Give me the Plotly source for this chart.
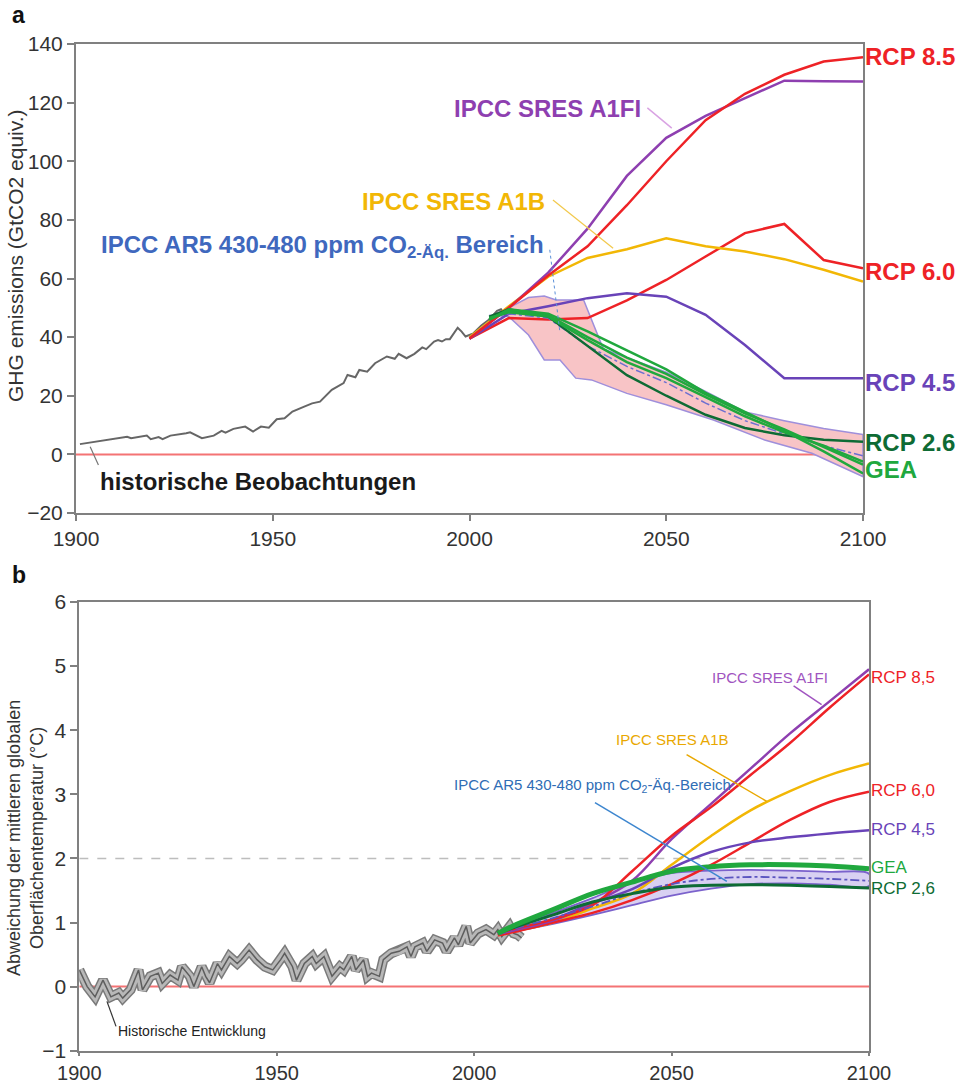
import plotly.graph_objects as go

# ---------------- DATA: panel a (GHG emissions, GtCO2 equiv.) ----------------
hist_ghg_years = [1901, 1905, 1908, 1913, 1914, 1918, 1919, 1921, 1922, 1924, 1928, 1929, 1932, 1935,
                  1937, 1938, 1940, 1943, 1945, 1947, 1949, 1951, 1953, 1955, 1958, 1960, 1962, 1965,
                  1968, 1969, 1971, 1972, 1974, 1976, 1979, 1981, 1982, 1984, 1986, 1988, 1989, 1991,
                  1992, 1993, 1994, 1995, 1997, 1998, 1999, 2001, 2003, 2005, 2007, 2008, 2009, 2010]
hist_ghg = [3.5, 4.3, 4.9, 6.0, 5.5, 6.4, 5.2, 5.9, 5.2, 6.4, 7.2, 7.5, 5.5, 6.4,
            8.0, 7.4, 8.7, 9.5, 7.8, 9.5, 9.1, 12.0, 12.3, 14.6, 16.3, 17.4, 18.0, 22.0,
            24.3, 27.1, 26.3, 28.8, 28.2, 31.1, 33.4, 32.6, 34.3, 32.8, 34.3, 36.5, 35.9, 38.5,
            39.0, 38.5, 39.3, 39.3, 43.2, 41.9, 40.2, 41.3, 44.0, 46.0, 49.0, 49.5, 47.5, 48.5]

proj_years = [2000, 2010, 2020, 2030, 2040, 2050, 2060, 2070, 2080, 2090, 2100]
a_rcp85 = [39.5, 50.0, 61.0, 71.0, 85.0, 100.0, 114.0, 123.0, 129.5, 134.0, 135.5]
a_a1fi = [39.5, 50.0, 62.0, 77.0, 95.0, 108.0, 115.5, 121.5, 127.5, 127.3, 127.2]
a_a1b = [40.0, 50.5, 60.6, 67.0, 70.0, 73.7, 71.0, 69.2, 66.6, 63.0, 59.0]
a_rcp60 = [39.5, 46.5, 46.0, 46.5, 52.5, 59.5, 67.5, 75.5, 78.6, 66.3, 63.5]
a_rcp45 = [39.5, 48.0, 50.5, 53.3, 55.0, 53.8, 47.6, 37.3, 26.0, 26.0, 26.0]

low_years = [2005, 2010, 2020, 2030, 2040, 2050, 2060, 2070, 2080, 2090, 2100]
a_rcp26 = [47.0, 49.5, 47.0, 37.0, 27.0, 20.0, 13.5, 9.0, 6.5, 5.0, 4.3]
a_gea1 = [46.0, 49.5, 48.0, 42.0, 35.5, 29.0, 21.0, 14.5, 8.0, 1.0, -6.5]
a_gea2 = [46.0, 49.0, 47.5, 40.0, 33.0, 27.5, 20.5, 14.0, 8.5, 2.5, -3.5]
a_gea3 = [46.5, 48.5, 47.0, 39.0, 31.5, 26.0, 19.5, 13.0, 7.5, 3.0, -2.5]
a_ar5_mid = [47.0, 48.0, 46.5, 37.0, 30.0, 24.5, 17.5, 11.5, 7.0, 3.0, -0.5]

band_up_years = [2005, 2010, 2015, 2019, 2022, 2029, 2034, 2040, 2050, 2060, 2070, 2080, 2090, 2100]
band_up = [47.0, 50.0, 53.5, 54.0, 52.7, 52.7, 36.0, 33.0, 28.0, 21.5, 14.5, 11.5, 8.8, 6.8]
band_lo_years = [2005, 2010, 2015, 2019, 2023, 2027, 2031, 2040, 2050, 2062, 2075, 2087, 2100]
band_lo = [47.5, 47.0, 40.7, 32.2, 32.2, 26.0, 25.4, 20.8, 16.9, 11.7, 4.9, 0.4, -7.6]

# ---------------- DATA: panel b (temperature anomaly, °C) ----------------
hist_t_years = [1900, 1902, 1904, 1906, 1908, 1910, 1911, 1913, 1915, 1916, 1918, 1920, 1921, 1923,
                1925, 1926, 1928, 1929, 1931, 1932, 1933, 1935, 1936, 1938, 1940, 1941, 1943, 1945,
                1947, 1949, 1951, 1952, 1954, 1955, 1957, 1959, 1960, 1962, 1964, 1966, 1967, 1969,
                1970, 1972, 1973, 1974, 1976, 1977, 1979, 1981, 1983, 1984, 1985, 1987, 1988, 1990,
                1992, 1993, 1995, 1996, 1998, 1999, 2001, 2003, 2005, 2006, 2007, 2009, 2010, 2011, 2012]
hist_t = [0.26, 0.0, -0.16, 0.1, -0.16, -0.1, -0.18, -0.05, 0.26, -0.05, 0.16, 0.21, 0.05, 0.18,
          0.1, 0.31, 0.16, 0.0, 0.31, 0.16, 0.06, 0.36, 0.26, 0.47, 0.36, 0.42, 0.57, 0.42,
          0.31, 0.26, 0.42, 0.52, 0.31, 0.1, 0.36, 0.47, 0.36, 0.47, 0.16, 0.31, 0.26, 0.47,
          0.26, 0.42, 0.16, 0.21, 0.16, 0.42, 0.52, 0.55, 0.62, 0.47, 0.62, 0.68, 0.55, 0.73,
          0.68, 0.55, 0.76, 0.65, 0.94, 0.68, 0.83, 0.89, 0.81, 0.89, 0.78, 0.94, 0.83, 0.81, 0.76]

t_years = [2006, 2010, 2020, 2030, 2040, 2050, 2060, 2070, 2080, 2090, 2100]
b_rcp85 = [0.83, 0.90, 1.05, 1.27, 1.80, 2.35, 2.80, 3.30, 3.80, 4.35, 4.87]
b_a1fi = [0.82, 0.88, 1.03, 1.30, 1.65, 2.30, 2.85, 3.40, 3.95, 4.45, 4.95]
b_a1b = [0.80, 0.86, 1.00, 1.22, 1.45, 1.90, 2.35, 2.75, 3.05, 3.30, 3.48]
b_rcp60 = [0.80, 0.85, 1.00, 1.15, 1.35, 1.60, 1.90, 2.25, 2.60, 2.88, 3.04]
b_rcp45 = [0.82, 0.88, 1.05, 1.30, 1.52, 1.85, 2.10, 2.25, 2.33, 2.39, 2.44]
b_gea = [0.83, 0.95, 1.20, 1.45, 1.63, 1.80, 1.87, 1.90, 1.90, 1.88, 1.84]
b_rcp26 = [0.83, 0.92, 1.12, 1.32, 1.45, 1.55, 1.58, 1.59, 1.58, 1.56, 1.54]
b_band_up = [0.84, 0.93, 1.15, 1.38, 1.63, 1.77, 1.81, 1.82, 1.81, 1.79, 1.76]
b_band_lo = [0.82, 0.86, 0.98, 1.12, 1.27, 1.42, 1.53, 1.60, 1.61, 1.59, 1.57]
b_ar5_mid = [0.83, 0.90, 1.07, 1.25, 1.45, 1.60, 1.68, 1.71, 1.70, 1.68, 1.65]

x_ticks = [1900, 1950, 2000, 2050, 2100]

# ---------------- STYLE ----------------
RED = "#EE2226"
ZRED = "#F47374"
A1FI_C = "#8E3FB0"
RCP45_C = "#6943B8"
YEL = "#F2B705"
BLUE = "#3F68BE"
DGREEN = "#0E6B34"
GREEN = "#20A83E"
GRAY = "#666666"
FONT = "Liberation Sans, Arial, sans-serif"

fig = go.Figure()

def line(x, y, color, width, xa="x", ya="y", dash=None, shape="linear", opacity=1.0):
    fig.add_trace(go.Scatter(x=x, y=y, mode="lines", xaxis=xa, yaxis=ya, opacity=opacity,
                             line=dict(color=color, width=width, dash=dash, shape=shape),
                             hoverinfo="skip", showlegend=False))

# ---- panel a ----
line([1900, 2100], [0, 0], ZRED, 2)
fig.add_trace(go.Scatter(x=band_up_years + band_lo_years[::-1], y=band_up + band_lo[::-1],
                         mode="lines", fill="toself", fillcolor="#F8C4C6",
                         line=dict(color="#9F8FDB", width=1.5), hoverinfo="skip", showlegend=False))
line(hist_ghg_years, hist_ghg, GRAY, 2)
line(proj_years, a_rcp60, RED, 2.5)
line(proj_years, a_a1b, YEL, 2.5)
line(proj_years, a_rcp45, RCP45_C, 2.5)
line(proj_years, a_a1fi, A1FI_C, 2.5)
line(proj_years, a_rcp85, RED, 2.5)
line(low_years, a_ar5_mid, "#6C6FD0", 1.5, dash="dashdot")
line(low_years, a_rcp26, DGREEN, 2.5)
line(low_years, a_gea3, GREEN, 2.5)
line(low_years, a_gea2, GREEN, 2.5)
line(low_years, a_gea1, GREEN, 2.5)

# ---- panel b ----
line([1900, 2100], [0, 0], ZRED, 2, "x2", "y2")
line([1900, 2100], [2, 2], "#BDBDBD", 1.5, "x2", "y2", dash="dash")
line(hist_t_years, hist_t, "#7A7A7A", 10, "x2", "y2")
line(hist_t_years, hist_t, "#B8B8B8", 7, "x2", "y2")
line(hist_t_years, hist_t, "#5E5E5E", 1.5, "x2", "y2")
fig.add_trace(go.Scatter(x=t_years + t_years[::-1], y=b_band_up + b_band_lo[::-1], mode="lines",
                         fill="toself", fillcolor="#D8D0F2", line=dict(color="#7B62CC", width=1.8, shape="spline"),
                         xaxis="x2", yaxis="y2", hoverinfo="skip", showlegend=False))
line(t_years, b_a1b, YEL, 2.5, "x2", "y2", shape="spline")
line(t_years, b_rcp60, RED, 2.5, "x2", "y2", shape="spline")
line(t_years, b_rcp45, RCP45_C, 2.5, "x2", "y2", shape="spline")
line(t_years, b_a1fi, A1FI_C, 2.5, "x2", "y2", shape="spline")
line(t_years, b_rcp85, RED, 2.5, "x2", "y2", shape="spline")
line(t_years, b_ar5_mid, "#5B55C0", 1.8, "x2", "y2", dash="dashdot", shape="spline")
line(t_years, b_rcp26, DGREEN, 3, "x2", "y2", shape="spline")
line(t_years, b_gea, GREEN, 5, "x2", "y2", shape="spline")

def axis_common(ticklen=7, size=21):
    return dict(showgrid=False, zeroline=False, showline=True, linecolor="#808080", linewidth=2,
                mirror=True, ticks="outside", ticklen=ticklen, tickwidth=1.5, tickcolor="#808080",
                tickfont=dict(family=FONT, size=size, color="#333333"), automargin=False)

fig.update_layout(
    width=964, height=1083, paper_bgcolor="white", plot_bgcolor="white",
    margin=dict(l=0, r=0, t=0, b=0), showlegend=False,
    font=dict(family=FONT),
    xaxis=dict(domain=[76 / 964, 863 / 964], range=[1900, 2100], tickvals=x_ticks, anchor="y", **axis_common(6, 21)),
    yaxis=dict(domain=[570 / 1083, 1039 / 1083], range=[-20, 140], dtick=20, anchor="x", **axis_common(7, 21)),
    xaxis2=dict(domain=[79.3 / 964, 869 / 964], range=[1900, 2100], tickvals=x_ticks, anchor="y2", **axis_common(3, 20)),
    yaxis2=dict(domain=[32.3 / 1083, 481 / 1083], range=[-1, 6], dtick=1, anchor="x2", **axis_common(7, 21)),
)

ann = []
def txt(x, y, text, color, size, bold=False, xref="x", yref="y", xanchor="center", yanchor="middle", angle=0):
    t = f"<b>{text}</b>" if bold else text
    ann.append(dict(x=x, y=y, xref=xref, yref=yref, text=t, showarrow=False, xanchor=xanchor,
                    yanchor=yanchor, textangle=angle, font=dict(family=FONT, size=size, color=color)))

# panel labels
txt(10 / 964, 1 - 15 / 1083, "a", "#111111", 23, True, "paper", "paper", "left")
txt(10 / 964, 1 - 575 / 1083, "b", "#111111", 23, True, "paper", "paper", "left")
# axis titles
txt(16 / 964, 1 - 256 / 1083, "GHG emissions (GtCO2 equiv.)", "#333333", 21, False, "paper", "paper", angle=-90)
txt(25 / 964, 1 - 838 / 1083, "Abweichung der mittleren globalen<br>Oberflächentemperatur (°C)", "#333333", 18,
    False, "paper", "paper", angle=-90)

# panel a labels
txt(2100, 135.6, "RCP 8.5", RED, 24, True, xanchor="left")
txt(2100, 62.4, "RCP 6.0", RED, 24, True, xanchor="left")
txt(2100, 24.4, "RCP 4.5", RCP45_C, 24, True, xanchor="left")
txt(2100, 3.9, "RCP 2.6", DGREEN, 24, True, xanchor="left")
txt(2100, -5.3, "GEA", GREEN, 24, True, xanchor="left")
txt(2044.0, 118.1, "IPCC SRES A1FI", A1FI_C, 24, True, xanchor="right")
txt(2019.8, 86.2, "IPCC SRES A1B", YEL, 24, True, xanchor="right")
txt(2019.5, 70.8, "IPCC AR5 430-480 ppm CO<sub>2-Äq.</sub> Bereich", BLUE, 24, True, xanchor="right")
txt(1905.6, -9.3, "historische Beobachtungen", "#1A1A1A", 24, True, xanchor="left")

# panel b labels
txt(2100, 4.82, "RCP 8,5", RED, 17, xanchor="left", xref="x2", yref="y2")
txt(2100, 3.06, "RCP 6,0", RED, 17, xanchor="left", xref="x2", yref="y2")
txt(2100, 2.45, "RCP 4,5", RCP45_C, 17, xanchor="left", xref="x2", yref="y2")
txt(2100, 1.86, "GEA", GREEN, 17, xanchor="left", xref="x2", yref="y2")
txt(2100, 1.53, "RCP 2,6", DGREEN, 17, xanchor="left", xref="x2", yref="y2")
txt(2075.0, 4.83, "IPCC SRES A1FI", "#A054C0", 15, xref="x2", yref="y2")
txt(2050.2, 3.86, "IPCC SRES A1B", "#E9A800", 15, xref="x2", yref="y2")
txt(2030.0, 3.14, "IPCC AR5 430-480 ppm CO<sub>2</sub>-Äq.-Bereich", "#2F6DB5", 15, xref="x2", yref="y2")
txt(1909.3, -0.70, "Historische Entwicklung", "#222222", 14, xanchor="left", xref="x2", yref="y2")

fig.update_layout(annotations=ann)

# connectors (label leader lines)
def seg(x0, y0, x1, y1, color, width=1.2, dash=None, xref="x", yref="y"):
    fig.add_shape(type="line", x0=x0, y0=y0, x1=x1, y1=y1, xref=xref, yref=yref,
                  line=dict(color=color, width=width, dash=dash))

seg(2045.2, 118.2, 2051.4, 111.3, "#D9A3E3", 1.5)
seg(2021.2, 86.8, 2036.5, 70.3, "#F2C94C", 1.2)
seg(2020.4, 69.8, 2023.0, 41.4, "#5A8FD8", 1.0, "dot")
seg(1903.6, 2.6, 1905.7, -3.6, "#777777", 1.2)
seg(2080.9, 4.69, 2088.0, 4.40, "#A054C0", 1.5, xref="x2", yref="y2")
seg(2053.8, 3.62, 2074.1, 2.89, "#E9A800", 1.5, xref="x2", yref="y2")
seg(2030.6, 2.87, 2064.0, 1.64, "#3D86CF", 1.5, xref="x2", yref="y2")
seg(1907.0, -0.23, 1909.3, -0.62, "#333333", 1.2, xref="x2", yref="y2")

fig.write_html("out.html", config={"displayModeBar": False},
               post_script="document.body.style.margin='0';")
